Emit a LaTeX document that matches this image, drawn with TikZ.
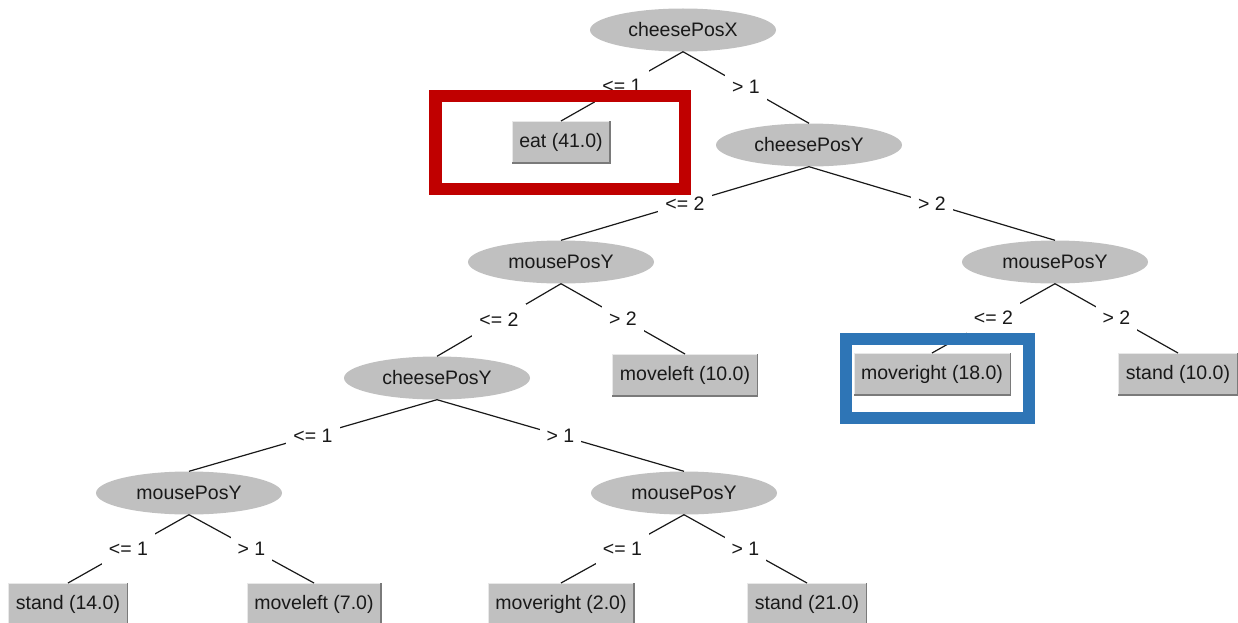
\documentclass[tikz,border=0pt]{standalone}
\usepackage{fontspec}
\setmainfont{Liberation Sans}
\usetikzlibrary{shapes.geometric}
\definecolor{nodegray}{HTML}{C0C0C0}
\definecolor{edgedark}{HTML}{7A7A7A}
\definecolor{edgelight}{HTML}{E8E8E8}
\definecolor{markred}{HTML}{C00000}
\definecolor{markblue}{HTML}{2E75B6}
\begin{document}
\begin{tikzpicture}[x=1pt, y=-1pt,
    every node/.style={font=\fontsize{19.5}{23}\selectfont, text=black!90},
    split/.style={ellipse, fill=nodegray, minimum width=186pt, minimum height=43pt, inner sep=0pt},
    leaf/.style={rectangle, fill=nodegray, draw=edgelight, line width=1pt, minimum height=41pt, inner xsep=7pt},
    cond/.style={midway, fill=white, inner xsep=7pt, inner ysep=9pt, text height=14pt, text depth=1pt},
    branch/.style={line width=1.2pt, black!90}]
  \useasboundingbox (0,0) rectangle (1238,623);
  % attribute tests
  \node[split] (X)   at (683,30)  {cheesePosX};
  \node[split] (Y1)  at (809,145) {cheesePosY};
  \node[split] (MA)  at (561,262) {mousePosY};
  \node[split] (MB)  at (1055,262) {mousePosY};
  \node[split] (Y2)  at (437,378) {cheesePosY};
  \node[split] (MC)  at (189,493) {mousePosY};
  \node[split] (MD)  at (684,493) {mousePosY};
  % leaves
  \node[leaf] (eat)  at (561,142) {eat (41.0)};
  \node[leaf] (ml10) at (685,375) {moveleft (10.0)};
  \node[leaf] (mr18) at (932,374) {moveright (18.0)};
  \node[leaf] (st10) at (1178,374) {stand (10.0)};
  \node[leaf] (st14) at (68,604)  {stand (14.0)};
  \node[leaf] (ml7)  at (314,604) {moveleft (7.0)};
  \node[leaf] (mr2)  at (561,604) {moveright (2.0)};
  \node[leaf] (st21) at (807,604) {stand (21.0)};
  \foreach \n in {eat,ml10,mr18,st10,st14,ml7,mr2,st21}
    \draw[edgedark, line width=1.5pt] (\n.north east) -- (\n.south east) -- (\n.south west);
  % branches
  \draw[branch] (X.south)  -- node[cond] {<= 1} (eat.north);
  \draw[branch] (X.south)  -- node[cond] {> 1}  (Y1.north);
  \draw[branch] (Y1.south) -- node[cond] {<= 2} (MA.north);
  \draw[branch] (Y1.south) -- node[cond] {> 2}  (MB.north);
  \draw[branch] (MA.south) -- node[cond] {<= 2} (Y2.north);
  \draw[branch] (MA.south) -- node[cond] {> 2}  (ml10.north);
  \draw[branch] (MB.south) -- node[cond] {<= 2} (mr18.north);
  \draw[branch] (MB.south) -- node[cond] {> 2}  (st10.north);
  \draw[branch] (Y2.south) -- node[cond] {<= 1} (MC.north);
  \draw[branch] (Y2.south) -- node[cond] {> 1}  (MD.north);
  \draw[branch] (MC.south) -- node[cond] {<= 1} (st14.north);
  \draw[branch] (MC.south) -- node[cond] {> 1}  (ml7.north);
  \draw[branch] (MD.south) -- node[cond] {<= 1} (mr2.north);
  \draw[branch] (MD.south) -- node[cond] {> 1}  (st21.north);
  % highlight frames
  \draw[markred, line width=12.5pt] (435.5,96) rectangle (685,189);
  \draw[markblue, line width=12pt] (845.5,339) rectangle (1028.5,417.5);
\end{tikzpicture}
\end{document}
